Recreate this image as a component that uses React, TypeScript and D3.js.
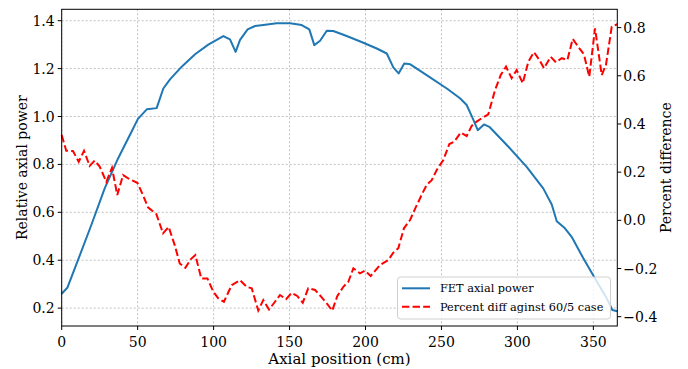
import React from "react";
import * as d3 from "d3";

const xTicks = [0, 50, 100, 150, 200, 250, 300, 350];
const yLeftTicks = [0.2, 0.4, 0.6, 0.8, 1.0, 1.2, 1.4];
const yRightTicks = [-0.4, -0.2, 0.0, 0.2, 0.4, 0.6, 0.8];

const powerX = [0, 3.7, 10.7, 19.5, 28.3, 37.1, 44.8, 50.2, 56, 62.5, 66.9, 71.3, 79, 87.8, 96.5, 106.4, 110.8, 114.5, 117.4, 122.4, 127.3, 132.7, 141.5, 150.3, 158, 163, 166.3, 170.1, 174.5, 178.8, 187.6, 198.6, 207.4, 214, 218.3, 221.8, 225.5, 229.5, 241, 254, 262.2, 266.6, 270.6, 273.9, 278, 281.5, 293, 306.1, 317, 322.6, 325.9, 331.3, 335.7, 343.4, 351.1, 358.8, 362.5, 365.76];
const powerY = [0.26, 0.285, 0.4, 0.547, 0.7, 0.825, 0.922, 0.99, 1.03, 1.035, 1.117, 1.155, 1.208, 1.26, 1.3, 1.336, 1.322, 1.27, 1.32, 1.364, 1.378, 1.382, 1.389, 1.389, 1.382, 1.364, 1.298, 1.316, 1.358, 1.357, 1.336, 1.308, 1.284, 1.263, 1.205, 1.18, 1.221, 1.218, 1.17, 1.115, 1.076, 1.048, 0.992, 0.943, 0.967, 0.957, 0.881, 0.79, 0.7, 0.633, 0.563, 0.533, 0.498, 0.408, 0.324, 0.241, 0.192, 0.187];

const diffX = [0, 3.0, 7.4, 11.2, 14.7, 18.4, 21.7, 25.0, 29.4, 33.1, 36.6, 40.4, 44.8, 49.8, 53.5, 56.8, 62.3, 66.7, 70.4, 74.4, 77.7, 81.4, 84.9, 88.0, 91.9, 95.9, 99.8, 103.1, 106.8, 111.9, 117.4, 121.8, 125.1, 129.4, 132.7, 136.5, 140.4, 143.7, 147.7, 151.4, 155.1, 158.7, 162.3, 166.8, 171.2, 174.5, 178.1, 181.4, 185.4, 188.7, 192.0, 196.4, 199.7, 203.4, 209.5, 215.0, 218.3, 221.6, 225.3, 229.3, 233.2, 237.7, 240.3, 243.6, 246.9, 251.2, 255.2, 258.3, 262.7, 266.6, 269.9, 273.2, 276.5, 280.8, 285.3, 289.0, 292.5, 296.2, 299.5, 303.5, 307.2, 310.9, 314.4, 317.5, 321.9, 325.4, 329.2, 332.9, 336.4, 340.8, 343.8, 347.3, 351.1, 355.5, 358.3, 362.1, 365.76];
const diffY = [0.354, 0.289, 0.288, 0.243, 0.289, 0.226, 0.248, 0.223, 0.16, 0.218, 0.105, 0.188, 0.17, 0.156, 0.105, 0.054, 0.026, -0.054, -0.027, -0.103, -0.179, -0.197, -0.162, -0.144, -0.241, -0.241, -0.296, -0.324, -0.338, -0.269, -0.248, -0.276, -0.282, -0.374, -0.331, -0.37, -0.338, -0.31, -0.327, -0.301, -0.314, -0.342, -0.282, -0.289, -0.32, -0.345, -0.375, -0.315, -0.276, -0.255, -0.199, -0.22, -0.209, -0.231, -0.186, -0.165, -0.134, -0.116, -0.033, 0.001, 0.056, 0.115, 0.147, 0.167, 0.209, 0.25, 0.317, 0.326, 0.364, 0.35, 0.392, 0.41, 0.424, 0.44, 0.541, 0.603, 0.638, 0.59, 0.624, 0.569, 0.659, 0.698, 0.666, 0.631, 0.679, 0.656, 0.673, 0.666, 0.753, 0.714, 0.689, 0.596, 0.797, 0.603, 0.645, 0.804, 0.814];

const seriesLabels = ["FET axial power", "Percent diff aginst 60/5 case"];

const W = 688, H = 369;
const L = 61.7, R = 617.3, T = 9.3, B = 326;
const FONT = '"DejaVu Serif", "Liberation Serif", serif';

export default function App() {
  const x = d3.scaleLinear().domain([0, 365.76]).range([L, R]);
  const yL = d3.scaleLinear().domain([0.1254, 1.4476]).range([B, T]);
  const yR = d3.scaleLinear().domain([-0.4386, 0.876]).range([B, T]);

  const powerLine = d3.line<number>().x((_, i) => x(powerX[i])).y((d) => yL(d));
  const diffLine = d3.line<number>().x((_, i) => x(diffX[i])).y((d) => yR(d));

  const fmt = (v: number) => (v < 0 ? "\u2212" : "") + Math.abs(v).toFixed(1);
  const ts = { fontFamily: FONT } as React.CSSProperties;

  return (
    <svg width={W} height={H} style={{ position: "absolute", left: 0, top: 0, background: "#fff", fontFamily: FONT }}>
      <rect x={0} y={0} width={W} height={H} fill="#fff" />
      <g stroke="#b0b0b0" strokeWidth={0.8} strokeDasharray="2,2">
        {xTicks.map((t) => (
          <line key={"gx" + t} x1={x(t)} x2={x(t)} y1={T} y2={B} />
        ))}
        {yLeftTicks.map((t) => (
          <line key={"gy" + t} x1={L} x2={R} y1={yL(t)} y2={yL(t)} />
        ))}
      </g>
      <path d={powerLine(powerY) || ""} fill="none" stroke="#1f77b4" strokeWidth={2} strokeLinejoin="round" />
      <path d={diffLine(diffY) || ""} fill="none" stroke="#ff0000" strokeWidth={2} strokeDasharray="7.4,3.2" />
      <rect x={L} y={T} width={R - L} height={B - T} fill="none" stroke="#000" strokeWidth={1} />
      {xTicks.map((t) => (
        <g key={"xt" + t}>
          <line x1={x(t)} x2={x(t)} y1={B} y2={B + 4} stroke="#000" />
          <text style={ts} x={x(t)} y={347} textAnchor="middle" fontSize={14}>{t}</text>
        </g>
      ))}
      {yLeftTicks.map((t) => (
        <g key={"yl" + t}>
          <line x1={L - 4} x2={L} y1={yL(t)} y2={yL(t)} stroke="#000" />
          <text style={ts} x={L - 7} y={yL(t) + 5} textAnchor="end" fontSize={14}>{t.toFixed(1)}</text>
        </g>
      ))}
      {yRightTicks.map((t) => (
        <g key={"yr" + t}>
          <line x1={R} x2={R + 4} y1={yR(t)} y2={yR(t)} stroke="#000" />
          <text style={ts} x={R + 6} y={yR(t) + 5} textAnchor="start" fontSize={14}>{fmt(t)}</text>
        </g>
      ))}
      <text style={ts} x={(L + R) / 2} y={364} textAnchor="middle" fontSize={15}>Axial position (cm)</text>
      <text style={ts} transform={`translate(27,${(T + B) / 2}) rotate(-90)`} textAnchor="middle" fontSize={14}>Relative axial power</text>
      <text style={ts} transform={`translate(671,${(T + B) / 2}) rotate(-90)`} textAnchor="middle" fontSize={14}>Percent difference</text>
      <g>
        <rect x={397.5} y={277} width={213} height={42} rx={3} fill="#fff" fillOpacity={0.8} stroke="#d0d0d0" strokeWidth={1} />
        <line x1={402} x2={430} y1={288.3} y2={288.3} stroke="#1f77b4" strokeWidth={2} />
        <line x1={402} x2={430} y1={306.7} y2={306.7} stroke="#ff0000" strokeWidth={2} strokeDasharray="7.4,3.2" />
        <text style={ts} x={440} y={292.3} fontSize={11.3}>{seriesLabels[0]}</text>
        <text style={ts} x={440} y={310.7} fontSize={11.3}>{seriesLabels[1]}</text>
      </g>
    </svg>
  );
}
